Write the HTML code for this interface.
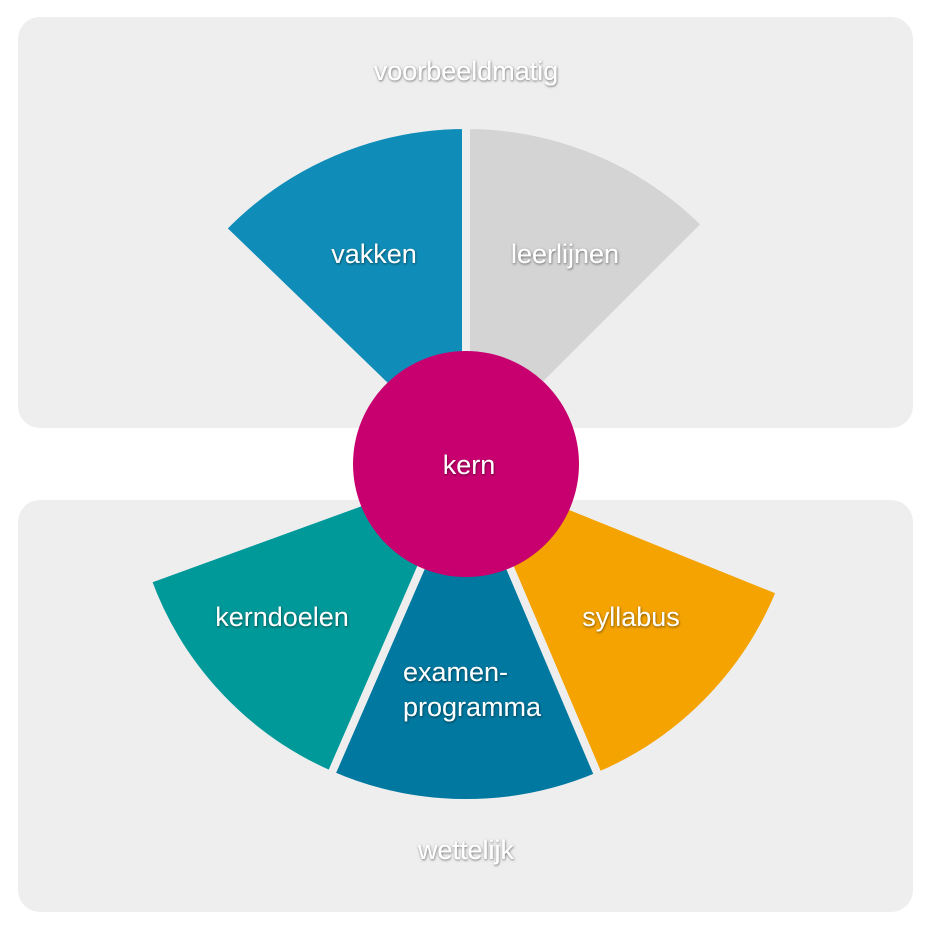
<!DOCTYPE html>
<html><head><style>
html,body{margin:0;padding:0;background:#fff;}
svg{display:block;}
text{font-family:"Liberation Sans",sans-serif;fill:#fff;font-size:27px;text-anchor:middle;filter:url(#sh);}
</style></head><body>
<svg width="933" height="933" viewBox="0 0 933 933" xmlns="http://www.w3.org/2000/svg">
<defs>
<filter id="sh" x="-20%" y="-40%" width="140%" height="180%">
<feDropShadow dx="0.5" dy="1" stdDeviation="1.2" flood-color="#000" flood-opacity="0.55"/>
</filter>
</defs>
<rect x="18" y="17" width="895" height="411" rx="22" fill="#eeeeee"/>
<rect x="18" y="500" width="895" height="412" rx="22" fill="#eeeeee"/>
<g stroke="#eeeeee" stroke-width="8" stroke-linejoin="miter">
<path d="M466,464 L222.2,228.5 A339,339 0 0 1 466,125 Z" fill="#0f8db8"/>
<path d="M466,464 L466,125 A339,339 0 0 1 705.7,224.3 Z" fill="#d4d4d4"/>
<path d="M466,464 L780.3,591 A339,339 0 0 1 598.5,776.1 Z" fill="#f5a300"/>
<path d="M466,464 L598.5,776.1 A339,339 0 0 1 330.8,774.9 Z" fill="#0078a0"/>
<path d="M466,464 L330.8,774.9 A339,339 0 0 1 147.4,579.9 Z" fill="#009999"/>
</g>
<circle cx="466" cy="464" r="113" fill="#c8006f"/>
<text x="466" y="80">voorbeeldmatig</text>
<text x="374" y="263">vakken</text>
<text x="565" y="263">leerlijnen</text>
<text x="469" y="474">kern</text>
<text x="282" y="626">kerndoelen</text>
<text x="631" y="626">syllabus</text>
<text x="403" y="681" style="text-anchor:start">examen-</text>
<text x="403" y="716" style="text-anchor:start">programma</text>
<text x="466" y="859">wettelijk</text>
</svg>
</body></html>
